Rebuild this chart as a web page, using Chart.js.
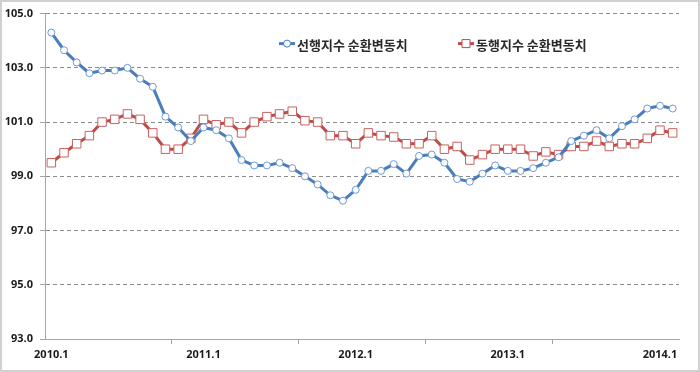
<!DOCTYPE html>
<html>
<head>
<meta charset="utf-8">
<script src="https://cdn.jsdelivr.net/npm/chart.js@4.4.1/dist/chart.umd.min.js"></script>
<style>
  html, body { margin: 0; padding: 0; background: #fff; }
  #wrap { width: 700px; height: 372px; position: relative; }
</style>
</head>
<body>
<div id="wrap"><canvas id="grafico" width="700" height="372"></canvas></div>
<script>
// monthly categories 2010.1 .. 2014.2
const meses = [];
for (let ano = 2010; ano <= 2014; ano++) {
  for (let m = 1; m <= 12; m++) {
    if (ano === 2014 && m > 2) break;
    meses.push(ano + '.' + m);
  }
}
const rotulosX = ['2010.1', '2011.1', '2012.1', '2013.1', '2014.1'];

const nomeLider = '선행지수 순환변동치';
const nomeCoinc = '동행지수 순환변동치';

const lider = [104.3, 103.65, 103.2, 102.8, 102.9, 102.9, 103.0, 102.6, 102.3, 101.2,
  100.8, 100.3, 100.8, 100.7, 100.4, 99.6, 99.4, 99.4, 99.5, 99.3,
  99.0, 98.7, 98.3, 98.1, 98.5, 99.2, 99.2, 99.45, 99.1, 99.75,
  99.8, 99.5, 98.9, 98.8, 99.1, 99.4, 99.2, 99.2, 99.3, 99.5,
  99.7, 100.3, 100.5, 100.7, 100.4, 100.85, 101.1, 101.5, 101.6, 101.5];

const coinc = [99.5, 99.87, 100.2, 100.5, 101.0, 101.1, 101.3, 101.1, 100.6, 100.0,
  100.0, 100.4, 101.1, 100.9, 101.0, 100.6, 101.0, 101.2, 101.3, 101.4,
  101.05, 101.0, 100.5, 100.5, 100.2, 100.6, 100.5, 100.45, 100.2, 100.2,
  100.5, 100.0, 100.1, 99.6, 99.8, 100.0, 100.0, 100.0, 99.75, 99.9,
  99.8, 100.1, 100.1, 100.3, 100.1, 100.2, 100.2, 100.4, 100.7, 100.6];

const AZUL = '#4a7ebb';
const VERMELHO = '#be4b48';
const fonteEixo = { family: "'Open Sans', 'Noto Sans', sans-serif", size: 11, weight: 'bold' };

// white background + thin grey frame
const moldura = {
  id: 'moldura',
  beforeDraw(chart) {
    const c = chart.ctx;
    c.save();
    c.fillStyle = '#fff';
    c.fillRect(0, 0, chart.width, chart.height);
    c.strokeStyle = '#d0d0d0';
    c.lineWidth = 2;
    c.strokeRect(1, 1, chart.width - 2, chart.height - 2);
    c.restore();
  }
};

// legend drawn inside the plot area
const legenda = {
  id: 'legenda',
  afterDraw(chart) {
    const c = chart.ctx;
    const a = chart.chartArea;
    const y = a.top + 30;
    const itens = [
      { x: a.left + 234, cor: AZUL, tipo: 'circle', texto: nomeLider },
      { x: a.left + 413, cor: VERMELHO, tipo: 'rect', texto: nomeCoinc }
    ];
    c.save();
    itens.forEach(it => {
      c.strokeStyle = it.cor;
      c.lineWidth = 3;
      c.beginPath();
      c.moveTo(it.x, y);
      c.lineTo(it.x + 16, y);
      c.stroke();
      c.fillStyle = '#fff';
      c.lineWidth = 1;
      c.beginPath();
      if (it.tipo === 'circle') c.arc(it.x + 8, y, 3.5, 0, Math.PI * 2);
      else c.rect(it.x + 4, y - 4, 8, 8);
      c.fill();
      c.stroke();
      c.fillStyle = '#2a2a2a';
      c.font = "bold 13px 'Noto Sans CJK KR', sans-serif";
      c.textBaseline = 'middle';
      c.fillText(it.texto, it.x + 18, y + 1);
    });
    c.restore();
  }
};

new Chart(document.getElementById('grafico'), {
  type: 'line',
  data: {
    labels: meses,
    datasets: [{
      label: nomeLider,
      data: lider,
      borderColor: AZUL,
      borderWidth: 3,
      pointStyle: 'circle',
      pointRadius: 3.5,
      pointBackgroundColor: '#fff',
      pointBorderColor: '#6f9bd3',
      pointBorderWidth: 1,
      tension: 0
    }, {
      label: nomeCoinc,
      data: coinc,
      borderColor: VERMELHO,
      borderWidth: 3,
      pointStyle: 'rect',
      pointRadius: 6,
      pointBackgroundColor: '#fff',
      pointBorderColor: '#c9625f',
      pointBorderWidth: 1,
      tension: 0
    }]
  },
  options: {
    responsive: false,
    animation: false,
    layout: { padding: { left: 0, right: 21, top: 13, bottom: 0 } },
    plugins: { legend: { display: false }, tooltip: { enabled: false } },
    scales: {
      x: {
        type: 'category',
        offset: true,
        afterFit: s => { s.height = 33; },
        grid: {
          offset: true,
          drawOnChartArea: false,
          tickLength: 5,
          color: c => (c.index % 10 === 0 && c.index > 0) ? '#a6a6a6' : 'rgba(0,0,0,0)'
        },
        border: { color: '#a6a6a6', width: 1 },
        ticks: {
          autoSkip: false,
          maxRotation: 0,
          padding: 4,
          color: '#1a1a1a',
          font: fonteEixo,
          callback: function (v, i) {
            const l = meses[i];
            return rotulosX.includes(l) ? l : '';
          }
        }
      },
      y: {
        min: 93,
        max: 105,
        afterFit: s => { s.width = 45; },
        grid: {
          color: c => (c.tick && c.tick.value === 93) ? '#a6a6a6' : '#8c8c8c',
          tickColor: '#a6a6a6',
          tickLength: 5,
          lineWidth: 1
        },
        border: {
          color: '#a6a6a6',
          width: 1,
          dash: c => (c.tick && c.tick.value > 93) ? [4, 3] : []
        },
        ticks: {
          stepSize: 2,
          padding: 7,
          color: '#1a1a1a',
          font: fonteEixo,
          callback: v => v.toFixed(1)
        }
      }
    }
  },
  plugins: [moldura, legenda]
});
</script>
</body>
</html>
